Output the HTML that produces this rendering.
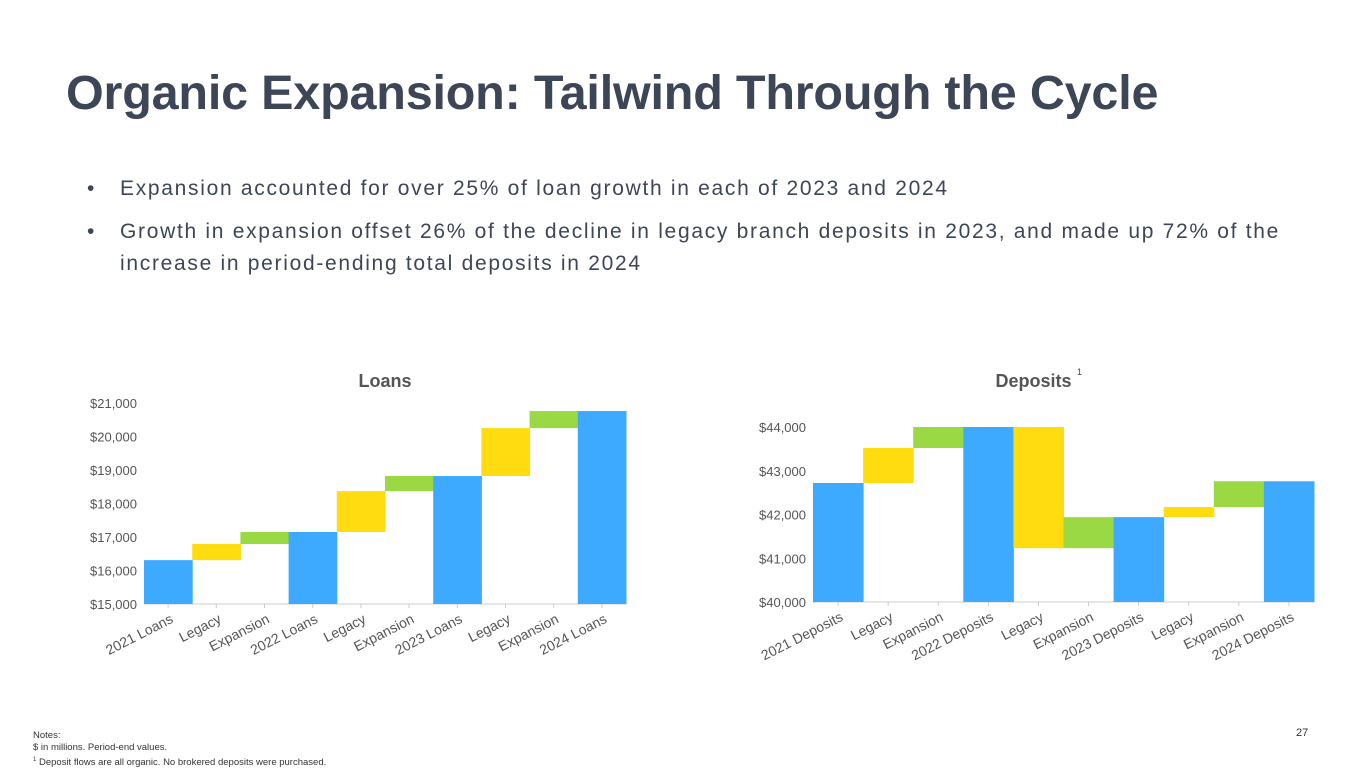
<!DOCTYPE html>
<html><head><meta charset="utf-8"><style>
body{margin:0;width:1365px;height:768px;background:#fff;font-family:"Liberation Sans",sans-serif;position:relative;overflow:hidden}
#title{position:absolute;left:66px;top:65px;font-size:48.5px;font-weight:bold;color:#3d4656;letter-spacing:-0.2px;margin:0}
.bul{position:absolute;left:120px;font-size:21px;color:#3d4656;line-height:32px;letter-spacing:1.7px}
.bul span{position:absolute;left:-33px}
#notes{position:absolute;left:33px;top:730px;font-size:9.5px;color:#333;line-height:12px}
#pg{position:absolute;left:1296px;top:727px;font-size:11px;color:#333}
svg{position:absolute;left:0;top:0}
</style></head><body>
<h1 id="title">Organic Expansion: Tailwind Through the Cycle</h1>
<div class="bul" style="top:173px;width:1230px"><span>•</span>Expansion accounted for over 25% of loan growth in each of 2023 and 2024</div>
<div class="bul" style="top:216px;width:1230px"><span>•</span>Growth in expansion offset 26% of the decline in legacy branch deposits in 2023, and made up 72% of the<br>increase in period-ending total deposits in 2024</div>
<div id="notes">Notes:<br>$ in millions. Period-end values.<br><sup style="font-size:6px">1</sup> Deposit flows are all organic. No brokered deposits were purchased.</div>
<div id="pg">27</div>
<svg id="chart" width="1365" height="768"></svg>
<script>
const loanCats=["2021 Loans","Legacy","Expansion","2022 Loans","Legacy","Expansion","2023 Loans","Legacy","Expansion","2024 Loans"];
const loanVals=[16310,480,360,17150,1220,450,18820,1430,510,20760];
const loanTypes=["t","d","d","t","d","d","t","d","d","t"];
const loanTicks=[15000,16000,17000,18000,19000,20000,21000];
const depCats=["2021 Deposits","Legacy","Expansion","2022 Deposits","Legacy","Expansion","2023 Deposits","Legacy","Expansion","2024 Deposits"];
const depVals=[42720,800,480,44000,-2770,710,41940,230,590,42760];
const depTypes=["t","d","d","t","d","d","t","d","d","t"];
const depTicks=[40000,41000,42000,43000,44000];
const NS="http://www.w3.org/2000/svg";
const svg=document.getElementById('chart');
function mk(tag,attrs,name){const e=document.createElementNS(NS,tag);for(const k in attrs)e.setAttribute(k,attrs[k]);


svg.appendChild(e);return e;}
function draw(cfg,cats,vals,types,ticks,prefix){
 const y=v=>cfg.y0-(v-cfg.vmin)/(cfg.vmax-cfg.vmin)*(cfg.y0-cfg.y1);
 const bw=(cfg.x1-cfg.x0)/cats.length;
 const t=mk('text',{x:(cfg.x0+cfg.x1)/2-cfg.tOff,y:cfg.ty,'text-anchor':'middle','font-size':18,'font-weight':'bold',fill:'#555'},prefix+'-title');t.textContent=cfg.title;
 if(cfg.sup){const s=mk('text',{x:cfg.sup[0],y:cfg.sup[1],'font-size':9,fill:'#444'},prefix+'-title-footnote');s.textContent='1';}
 ticks.forEach(v=>{const e=mk('text',{x:cfg.x0-7,y:y(v)+5,'text-anchor':'end','font-size':13,fill:'#555'},prefix+'-y-tick');e.textContent='$'+v.toLocaleString('en-US');});
 mk('line',{x1:cfg.x0,x2:cfg.x1,y1:cfg.y0,y2:cfg.y0,stroke:'#ccc','stroke-width':1},prefix+'-x-axis');
 let run=0;
 cats.forEach((c,i)=>{let a,b,col;
  if(types[i]=='t'){run=vals[i];a=cfg.vmin;b=run;col='#3eaaff';}
  else{a=run;b=run+vals[i];run=b;col=cats[i]=='Legacy'?'#ffdc0f':'#9ad943';}
  const x=cfg.x0+i*bw;
  mk('rect',{x:x,y:y(Math.max(a,b)),width:bw+0.5,height:Math.abs(y(a)-y(b)),fill:col},prefix+'-bar-'+i);
  mk('line',{x1:x+bw/2,x2:x+bw/2,y1:cfg.y0,y2:cfg.y0+4,stroke:'#ccc'},prefix+'-x-tick');
  const lx=x+bw/2+6,ly=cfg.y0+18;
  const l=mk('text',{x:lx,y:ly,'text-anchor':'end','font-size':14,fill:'#555',transform:`rotate(-27 ${lx} ${ly})`},prefix+'-x-label');l.textContent=c;
 });
}
draw({x0:144,x1:626,y0:604,y1:403,vmin:15000,vmax:21000,title:'Loans',ty:387,tOff:0},loanCats,loanVals,loanTypes,loanTicks,'loans');
draw({x0:813,x1:1314,y0:602,y1:427,vmin:40000,vmax:44000,title:'Deposits',ty:387,tOff:30,sup:[1077,375]},depCats,depVals,depTypes,depTicks,'deposits');
</script>
</body></html>
